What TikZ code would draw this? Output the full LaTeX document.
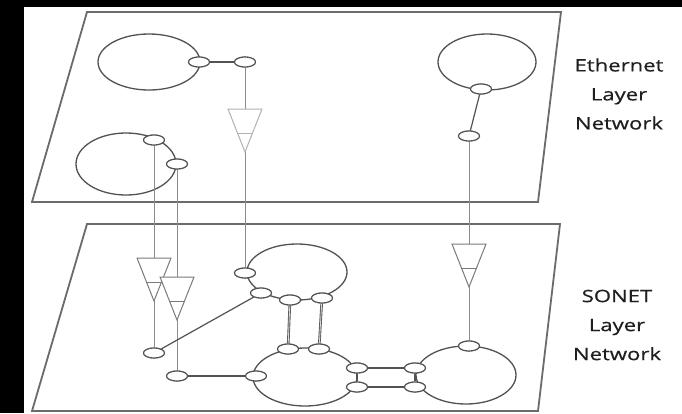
\documentclass[tikz,border=0pt]{standalone}
\usepackage{fontspec}
\setmainfont{Open Sans}
\newfontfamily\layerfont[FakeStretch=1.3,FakeBold=0.6]{Open Sans}
\usetikzlibrary{shapes.geometric}

\tikzset{
  plane/.style={draw=black!58, line width=1.8pt, fill=white, line join=miter},
  ring/.style={draw=black!68, line width=1.3pt},
  port/.style={ellipse, draw=black!68, line width=1.1pt, fill=white,
    minimum width=21pt, minimum height=10pt, inner sep=0pt},
  link/.style={draw=black!68, line width=1.2pt},
  feed/.style={draw=black!45, line width=0.9pt},
  twin/.style={draw=black!65, double=black!15, double distance=0.8pt, line width=0.9pt},
  adaptcol/.style={draw=black!52},
  adaptor/.pic={
    \draw[adaptcol, line width=1pt, fill=white, line join=miter]
      (-17,0) -- (17,0) -- (0,43) -- cycle;
    \draw[adaptcol, line width=1pt] (-7.6,24) -- (7.6,24);
  },
  layertext/.style={align=center, text=black!88,
    font=\layerfont\fontsize{17}{29}\selectfont}
}

\begin{document}
\begin{tikzpicture}[x=1pt,y=-1pt]
  % frame
  \fill[black] (0,0) rectangle (682,413);
  \fill[white] (24,7) rectangle (682,413);
  \useasboundingbox (0,0) rectangle (682,413);

  % the two layer planes
  \draw[plane] (87,12) -- (561,12) -- (538,202) -- (32,202) -- cycle;
  \draw[plane] (87,224) -- (560,224) -- (538,411) -- (32,411) -- cycle;

  % Ethernet rings
  \draw[ring] (149,62) ellipse [x radius=51, y radius=28];
  \draw[ring] (126,164) ellipse [x radius=50, y radius=31];
  \draw[ring] (487,62) ellipse [x radius=49, y radius=28];

  % SONET rings
  \draw[ring] (297,272) ellipse [x radius=50, y radius=28];
  \draw[ring] (305,377) ellipse [x radius=52, y radius=29];
  \draw[ring] (466,375) ellipse [x radius=50, y radius=29];

  % Ethernet ports
  \node[port] (a1) at (199,62) {};
  \node[port] (a2) at (245,62) {};
  \node[port] (a3) at (154,140) {};
  \node[port] (a4) at (177,164) {};
  \node[port] (c1) at (481,89) {};
  \node[port] (c2) at (469,136) {};

  % SONET ports
  \node[port] (b1) at (245,273) {};
  \node[port] (b2) at (261,293) {};
  \node[port] (b3) at (290,300) {};
  \node[port] (b4) at (322,298) {};
  \node[port] (d1) at (154,353) {};
  \node[port] (d2) at (177,376) {};
  \node[port] (e1) at (288,349) {};
  \node[port] (e2) at (319,349) {};
  \node[port] (e3) at (256,376) {};
  \node[port] (e4) at (357,368) {};
  \node[port] (e5) at (357,387) {};
  \node[port] (f1) at (469,346) {};
  \node[port] (f2) at (415,368) {};
  \node[port] (f3) at (415,387) {};

  % client-to-server feeds
  \draw[feed] (a2) -- (b1);
  \draw[feed] (a3) -- (d1);
  \draw[feed] (a4) -- (d2);
  \draw[feed] (c2) -- (f1);

  % adaptation functions
  \pic[adaptcol/.style={draw=black!30}] (t1) at (245,109) {adaptor};
  \pic (t2) at (154,258) {adaptor};
  \pic (t3) at (177,277) {adaptor};
  \pic (t4) at (469,244) {adaptor};

  % links
  \draw[link] (a1) -- (a2);
  \draw[link] (c1) -- (c2);
  \draw[link] (d1) -- (b2);
  \draw[link] (d2) -- (e3);
  \draw[twin] (b3) -- (e1);
  \draw[twin] (b4) -- (e2);
  \draw[link] (e4) -- (f2);
  \draw[link] (e5) -- (f3);
  \draw[link] (e4) -- (e5);
  \draw[link] (f2) -- (f3);

  % redraw ports over link ends
  \foreach \p in {a1,a2,a3,a4,c1,c2,b1,b2,b3,b4,d1,d2,e1,e2,e3,e4,e5,f1,f2,f3}
    \node[port] at (\p) {};

  % layer labels
  \node[layertext] (ethlabel) at (619,94) {Ethernet\\Layer\\Network};
  \node[layertext] (sonetlabel) at (617,325) {SONET\\Layer\\Network};
\end{tikzpicture}
\end{document}
